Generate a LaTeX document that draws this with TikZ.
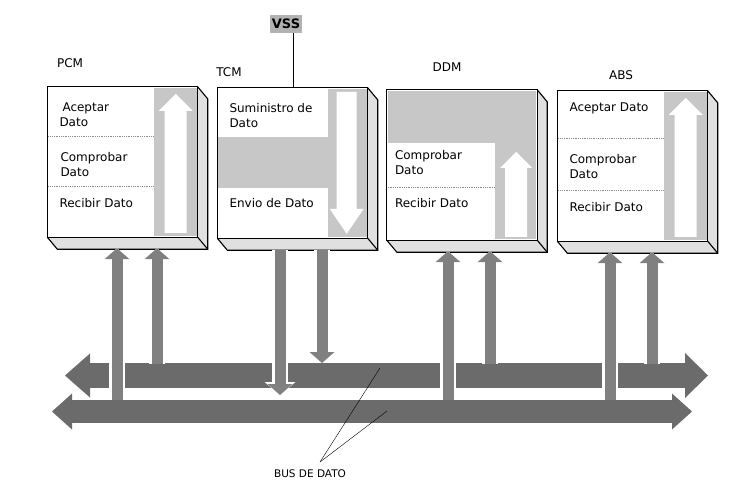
\documentclass[tikz,border=0pt]{standalone}
\usepackage{fontspec}
\setmainfont{DejaVu Sans}
\usetikzlibrary{arrows.meta,positioning,calc}
\tikzset{
  modulo/.style={fill=white,minimum width=150pt,minimum height=150pt,inner sep=0pt},
  borde/.style={draw=black,line width=1.1pt,line join=miter},
  cara/.style={fill=black!12},
  fondo/.style={fill=black!22},
  celda/.style={anchor=west,align=left,inner sep=0pt,font=\fontsize{12}{15}\selectfont},
  sep/.style={densely dotted,black!45,line width=0.8pt},
  tit/.style={font=\fontsize{12}{14}\selectfont},
  bus/.style={line width=#1,draw=black!58},
  vflecha/.style={line width=11pt,draw=black!50,-{Triangle[length=11pt,width=25pt,line width=0pt]},
    preaction={draw=white,line width=16pt,-{Triangle[length=13pt,width=31pt,line width=0pt]}}},
}
\begin{document}
\begin{tikzpicture}[x=1pt,y=-1pt]
 \useasboundingbox[fill=white] (0,0) rectangle (747,493);
 % modulos
 \node[modulo] (pcm) at (122.5,162) {};
 \node[modulo] (tcm) at (292.5,163) {};
 \node[modulo] (ddm) at (462,165) {};
 \node[modulo] (abs) at (632.5,166) {};
 \node[tit] (pcmt) at (70,63) {PCM};
 \node[tit] (tcmt) at (229,72) {TCM};
 \node[tit] (ddmt) at (447,67) {DDM};
 \node[tit] (abst) at (621,75) {ABS};
 % flechas interiores
 \foreach \b in {pcm,abs}{
  \fill[fondo] ([shift={(-44,1)}]\b.north east) rectangle ([shift={(-1,-1)}]\b.south east);
  \fill[white] ([shift={(-22,7)}]\b.north east) -- ++(17,17) -- ++(-6,0) -- ++(0,122) -- ++(-22,0) -- ++(0,-122) -- ++(-6,0) -- cycle;
 }
 \fill[fondo] ([shift={(1,1)}]ddm.north west) rectangle ([shift={(-1,53)}]ddm.north east);
 \fill[fondo] ([shift={(-42,1)}]ddm.north east) rectangle ([shift={(-1,-1)}]ddm.south east);
 \fill[white] ([shift={(-21,62)}]ddm.north east) -- ++(16,16) -- ++(-5,0) -- ++(0,69) -- ++(-22,0) -- ++(0,-69) -- ++(-5,0) -- cycle;
 \fill[fondo] ([shift={(1,49)}]tcm.north west) rectangle ([shift={(-1,100)}]tcm.north east);
 \fill[fondo] ([shift={(-40,1)}]tcm.north east) rectangle ([shift={(-1,-1)}]tcm.south east);
 \fill[white] ([shift={(-31,4)}]tcm.north east) -- ++(20,0) -- ++(0,117) -- ++(7,0) -- ++(-17,25) -- ++(-17,-25) -- ++(7,0) -- cycle;
 % separadores
 \draw[sep] ([shift={(1,50)}]pcm.north west) -- ([shift={(-44,50)}]pcm.north east);
 \draw[sep] ([shift={(1,100)}]pcm.north west) -- ([shift={(-44,100)}]pcm.north east);
 \draw[sep] ([shift={(1,98)}]ddm.north west) -- ([shift={(-42,98)}]ddm.north east);
 \draw[sep] ([shift={(1,48)}]abs.north west) -- ([shift={(-44,48)}]abs.north east);
 \draw[sep] ([shift={(1,100)}]abs.north west) -- ([shift={(-44,100)}]abs.north east);
 % textos
 \node[celda] (pcm1) at ([shift={(12,28)}]pcm.north west) {\hspace*{3pt}Aceptar\\Dato};
 \node[celda] (pcm2) at ([shift={(13,78)}]pcm.north west) {Comprobar\\Dato};
 \node[celda] (pcm3) at ([shift={(12,116)}]pcm.north west) {Recibir Dato};
 \node[celda] (tcm1) at ([shift={(12,28)}]tcm.north west) {Suministro de\\Dato};
 \node[celda] (tcm2) at ([shift={(12,115)}]tcm.north west) {Envio de Dato};
 \node[celda] (ddm1) at ([shift={(8,73)}]ddm.north west) {Comprobar\\Dato};
 \node[celda] (ddm2) at ([shift={(8,113)}]ddm.north west) {Recibir Dato};
 \node[celda] (abs1) at ([shift={(12,18)}]abs.north west) {Aceptar Dato};
 \node[celda] (abs2) at ([shift={(12,76)}]abs.north west) {Comprobar\\Dato};
 \node[celda] (abs3) at ([shift={(12,116)}]abs.north west) {Recibir Dato};
 % caras 3D
 \foreach \b in {pcm,tcm,ddm,abs}{
  \fill[cara] (\b.north east) -- ++(10,12) -- ([shift={(10,12)}]\b.south east) -- ([shift={(10,12)}]\b.south west) -- (\b.south west) -- (\b.south east) -- cycle;
  \draw[borde] (\b.north west) rectangle (\b.south east);
  \draw[borde] (\b.north east) -- ++(10,12) -- ([shift={(10,12)}]\b.south east) -- ([shift={(10,12)}]\b.south west) -- (\b.south west);
  \draw[borde] (\b.south east) -- ++(10,12);
 }
 % VSS
 \node[fill=black!30,inner sep=1.5pt,minimum height=18pt,font=\fontsize{13}{13}\selectfont\bfseries] (vss) at (286,24) {VSS};
 \draw[line width=1pt] ([xshift=7pt]vss.south) -- ([xshift=7pt]vss.south |- tcm.north);
 % buses
 \coordinate (ba-w) at (65,375.5); \coordinate (ba-e) at (708,375.5);
 \coordinate (bb-w) at (52,411.5); \coordinate (bb-e) at (692,411.5);
 \draw[bus=25pt,{Triangle[length=25pt,width=44pt,line width=0pt]}-{Triangle[length=23pt,width=45pt,line width=0pt]}] (ba-w) -- (ba-e);
 \draw[bus=23pt,{Triangle[length=20pt,width=36pt,line width=0pt]}-{Triangle[length=20pt,width=36pt,line width=0pt]}] (bb-w) -- (bb-e);
 % flechas verticales
 \coordinate (f1) at (117,400); \coordinate (f2) at (157,364);
 \coordinate (f3) at (280,395); \coordinate (f4) at (322,363);
 \coordinate (f5) at (448,400); \coordinate (f6) at (490,364);
 \coordinate (f7) at (610,400); \coordinate (f8) at (652,364);
 \foreach \f/\b in {f1/pcm,f2/pcm,f5/ddm,f6/ddm,f7/abs,f8/abs}
  \draw[vflecha] (\f) -- ([yshift=-11pt]\f |- \b.south);
 \foreach \f in {f3,f4}
  \draw[vflecha] ([yshift=-12pt]\f |- tcm.south) -- (\f);
 % etiqueta del bus
 \node[font=\fontsize{10.5}{12}\selectfont] (busdato) at (310,474) {BUS DE DATO};
 \coordinate (pl) at (320,462);
 \coordinate (pa) at (380,368); \coordinate (pb) at (387,411);
 \draw[thin] (pl) -- (pa);
 \draw[thin] (pl) -- (pb);
\end{tikzpicture}
\end{document}
